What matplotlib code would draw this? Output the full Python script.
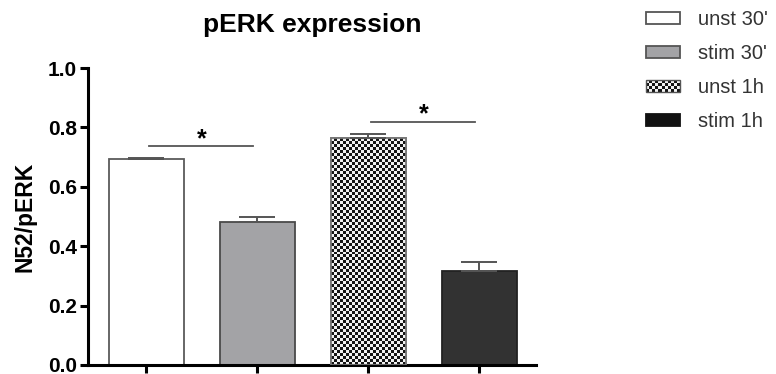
import matplotlib
matplotlib.use("Agg")
import matplotlib.pyplot as plt
import numpy as np
from matplotlib.patches import Rectangle
from matplotlib.legend_handler import HandlerBase
from matplotlib.colors import ListedColormap

plt.rcParams['font.family'] = ['Liberation Sans', 'DejaVu Sans']

# Data
groups = ["unst 30'", "stim 30'", "unst 1h", "stim 1h"]
means = [0.694, 0.483, 0.764, 0.317]
sem = [0.004, 0.015, 0.013, 0.031]
# significance brackets: (left group, right group, height)
brackets = [(0, 1, 0.737), (2, 3, 0.818)]
yticks = [0.0, 0.2, 0.4, 0.6, 0.8, 1.0]

face = ['white', '#a3a3a6', None, '#323232']
edge = ['#5a5a5a', '#4a4a4a', '#777777', '#222222']
CHECK_A, CHECK_B = '#151515', '#f2f2f2'

fig = plt.figure(figsize=(7.76, 3.74), dpi=100)
ax = fig.add_axes([88 / 776, 9 / 374, 448 / 776, 297 / 374])
ax.set_xlim(-0.523, 3.513)
ax.set_ylim(0, 1.0)

x = np.arange(len(groups))
width = 0.675
bars = ax.bar(x, means, width=width, color=[f if f else 'white' for f in face],
              edgecolor=edge, linewidth=1.3, zorder=2)

# Checkerboard fill for the third bar
fig.canvas.draw()
b = bars[2]
(px0, py0) = ax.transData.transform((b.get_x(), 0))
(px1, py1) = ax.transData.transform((b.get_x() + b.get_width(), b.get_height()))
cell = 3.0
nx = int(round((px1 - px0) / cell))
ny = int(round((py1 - py0) / cell))
checker = (np.add.outer(np.arange(ny), np.arange(nx)) % 2).astype(float)
cmap = ListedColormap([CHECK_A, CHECK_B])
im = ax.imshow(checker, cmap=cmap, interpolation='nearest', aspect='auto',
               extent=(b.get_x(), b.get_x() + b.get_width(), 0, b.get_height()),
               zorder=2.5, origin='lower')
im.set_clip_path(b)
ax.bar([x[2]], [means[2]], width=width, facecolor='none', edgecolor=edge[2],
       linewidth=1.3, zorder=3)
ax.set_xlim(-0.523, 3.513)
ax.set_ylim(0, 1.0)

# Upper error bars
ax.errorbar(x, means, yerr=[np.zeros(len(sem)), sem], fmt='none',
            ecolor='#555555', elinewidth=1.4, capsize=13, capthick=1.4, zorder=4)

# Significance brackets
for g0, g1, h in brackets:
    ax.plot([x[g0] + 0.03, x[g1] - 0.04], [h, h], color='#555555', lw=1.3, zorder=4)
    ax.text((x[g0] + x[g1]) / 2, h - 0.016, '*', ha='center', va='bottom',
            fontsize=18, fontweight='bold', color='black')

# Axes styling
for side in ['top', 'right']:
    ax.spines[side].set_visible(False)
for side in ['left', 'bottom']:
    ax.spines[side].set_linewidth(2.2)
ax.set_yticks(yticks)
ax.set_yticklabels([f'{v:.1f}' for v in yticks], fontsize=15, fontweight='bold')
ax.set_xticks(x)
ax.set_xticklabels([])
ax.tick_params(axis='both', direction='out', length=6, width=2.2, pad=2)
ax.set_ylabel('N52/pERK', fontsize=16.5, fontweight='bold', labelpad=8)
ax.set_title('pERK expression', fontsize=19, fontweight='bold', pad=26)


class CheckerHandler(HandlerBase):
    def create_artists(self, legend, orig_handle, xdescent, ydescent, width,
                       height, fontsize, trans):
        arts = []
        ncol, nrow = 11, 4
        cw, ch = width / ncol, height / nrow
        for i in range(nrow):
            for j in range(ncol):
                c = CHECK_A if (i + j) % 2 == 0 else CHECK_B
                arts.append(Rectangle((-xdescent + j * cw, -ydescent + i * ch), cw, ch,
                                      facecolor=c, edgecolor='none', transform=trans))
        arts.append(Rectangle((-xdescent, -ydescent), width, height, facecolor='none',
                              edgecolor='#555555', lw=1.0, transform=trans))
        return arts


handles = [Rectangle((0, 0), 1, 1, facecolor='white', edgecolor='#555555', lw=1.3),
           Rectangle((0, 0), 1, 1, facecolor='#a3a3a6', edgecolor='#555555', lw=1.3),
           Rectangle((0, 0), 1, 1),
           Rectangle((0, 0), 1, 1, facecolor='#111111', edgecolor='#111111', lw=1.3)]
leg = fig.legend(handles, groups, loc='upper left', bbox_to_anchor=(646 / 776, 1 - 10 / 374),
                 frameon=False, fontsize=14.5, handlelength=1.7, handleheight=0.52,
                 handletextpad=0.9, labelspacing=0.75, borderpad=0, borderaxespad=0,
                 handler_map={handles[2]: CheckerHandler()})
for t in leg.get_texts():
    t.set_color('#333333')

fig.savefig('out.png', dpi=100)
